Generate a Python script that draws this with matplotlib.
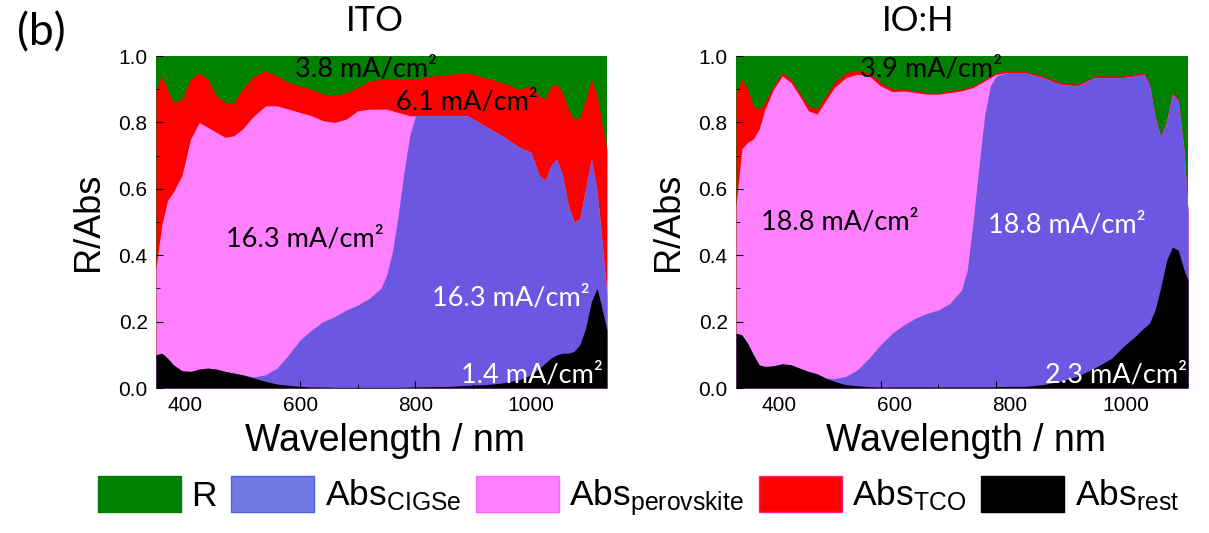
import numpy as np
import matplotlib
matplotlib.use("Agg")
import matplotlib.pyplot as plt
from matplotlib.patches import Patch
from matplotlib.ticker import MultipleLocator
from matplotlib.transforms import ScaledTranslation

plt.rcParams['font.family'] = ['Liberation Sans', 'DejaVu Sans']
plt.rcParams['mathtext.fontset'] = 'custom'
plt.rcParams['mathtext.rm'] = 'Liberation Sans'
plt.rcParams['mathtext.it'] = 'Liberation Sans:italic'

# colours of the stacked layers
c_r = '#008000'
c_cigse = '#6b57e0'
c_pero = '#ff80ff'
c_tco = '#ff0000'
c_rest = '#000000'

# ---- ITO: cumulative tops of the stacked layers (rest < CIGSe < perovskite < TCO, R above)
wl_ito = [350, 360, 370, 380, 395, 410, 425, 440, 455, 470, 485, 500, 520, 540, 560,
          580, 600, 620, 640, 660, 680, 700, 720, 740, 750, 760, 770, 780, 790, 800,
          830, 860, 890, 920, 950, 980, 1000, 1015, 1025, 1035, 1045, 1055, 1065, 1075,
          1085, 1095, 1105, 1115, 1122, 1132]
ito_rest = [0.10, 0.105, 0.09, 0.07, 0.052, 0.05, 0.057, 0.06, 0.057, 0.05, 0.045, 0.04, 0.03, 0.02, 0.012,
            0.008, 0.005, 0.003, 0.003, 0.002, 0.002, 0.002, 0.002, 0.002, 0.002, 0.002, 0.002, 0.002, 0.003, 0.003,
            0.004, 0.005, 0.008, 0.01, 0.015, 0.025, 0.04, 0.06, 0.075, 0.09, 0.10, 0.105, 0.105, 0.11,
            0.13, 0.18, 0.26, 0.30, 0.25, 0.175]
ito_cigse = [0.10, 0.105, 0.09, 0.07, 0.052, 0.05, 0.057, 0.06, 0.057, 0.05, 0.045, 0.04, 0.033, 0.04, 0.06,
             0.10, 0.145, 0.175, 0.20, 0.215, 0.235, 0.25, 0.27, 0.30, 0.34, 0.41, 0.52, 0.65, 0.76, 0.82,
             0.82, 0.82, 0.82, 0.79, 0.76, 0.725, 0.71, 0.64, 0.625, 0.67, 0.69, 0.64, 0.55, 0.50,
             0.51, 0.60, 0.69, 0.59, 0.47, 0.28]
ito_pero = [0.36, 0.49, 0.565, 0.59, 0.64, 0.75, 0.80, 0.785, 0.77, 0.755, 0.76, 0.78, 0.82, 0.85, 0.85,
            0.84, 0.83, 0.82, 0.805, 0.80, 0.81, 0.835, 0.84, 0.84, 0.84, 0.835, 0.83, 0.825, 0.82, 0.82,
            0.82, 0.82, 0.82, 0.79, 0.76, 0.725, 0.71, 0.64, 0.625, 0.67, 0.69, 0.64, 0.55, 0.50,
            0.51, 0.60, 0.69, 0.59, 0.47, 0.28]
ito_tco = [0.90, 0.94, 0.90, 0.86, 0.87, 0.93, 0.95, 0.93, 0.88, 0.86, 0.86, 0.90, 0.94, 0.955, 0.94,
           0.92, 0.91, 0.90, 0.885, 0.88, 0.89, 0.905, 0.925, 0.93, 0.93, 0.93, 0.93, 0.93, 0.93, 0.93,
           0.94, 0.945, 0.95, 0.935, 0.92, 0.90, 0.91, 0.88, 0.87, 0.91, 0.915, 0.89, 0.84, 0.81,
           0.815, 0.87, 0.93, 0.88, 0.81, 0.72]

# ---- IO:H
wl_ioh = [350, 360, 370, 380, 390, 400, 415, 430, 445, 460, 475, 490, 505, 520, 540,
          560, 580, 600, 620, 640, 660, 680, 700, 720, 740, 750, 760, 770, 780, 790,
          800, 820, 850, 880, 910, 940, 970, 1000, 1020, 1040, 1055, 1065, 1075, 1085,
          1095, 1105, 1115, 1125, 1132]
ioh_rest = [0.165, 0.16, 0.135, 0.10, 0.07, 0.065, 0.067, 0.073, 0.07, 0.06, 0.05, 0.043, 0.03, 0.02, 0.01,
            0.007, 0.004, 0.003, 0.003, 0.003, 0.003, 0.003, 0.003, 0.003, 0.003, 0.003, 0.003, 0.003, 0.003, 0.003,
            0.004, 0.005, 0.005, 0.01, 0.02, 0.035, 0.06, 0.09, 0.125, 0.155, 0.18, 0.195, 0.235, 0.305,
            0.385, 0.425, 0.415, 0.355, 0.325]
ioh_cigse = [0.165, 0.16, 0.135, 0.10, 0.07, 0.065, 0.067, 0.073, 0.07, 0.06, 0.05, 0.043, 0.03, 0.028, 0.035,
             0.055, 0.09, 0.13, 0.165, 0.19, 0.21, 0.225, 0.235, 0.255, 0.295, 0.355, 0.50, 0.665, 0.82, 0.91,
             0.94, 0.95, 0.95, 0.935, 0.915, 0.91, 0.935, 0.935, 0.935, 0.94, 0.945, 0.915, 0.815, 0.755,
             0.805, 0.885, 0.865, 0.715, 0.525]
ioh_pero = [0.55, 0.72, 0.74, 0.75, 0.78, 0.84, 0.90, 0.94, 0.92, 0.88, 0.835, 0.825, 0.865, 0.905, 0.935,
            0.945, 0.94, 0.91, 0.893, 0.895, 0.89, 0.885, 0.885, 0.89, 0.895, 0.90, 0.905, 0.915, 0.925, 0.935,
            0.945, 0.95, 0.95, 0.935, 0.915, 0.91, 0.935, 0.935, 0.935, 0.94, 0.945, 0.915, 0.815, 0.755,
            0.805, 0.885, 0.865, 0.715, 0.525]
ioh_tco = [0.89, 0.93, 0.90, 0.85, 0.84, 0.86, 0.91, 0.95, 0.93, 0.89, 0.85, 0.84, 0.88, 0.92, 0.95,
           0.955, 0.95, 0.92, 0.90, 0.90, 0.895, 0.89, 0.89, 0.895, 0.90, 0.905, 0.91, 0.92, 0.93, 0.94,
           0.95, 0.955, 0.955, 0.94, 0.92, 0.915, 0.94, 0.94, 0.94, 0.945, 0.95, 0.92, 0.82, 0.76,
           0.81, 0.89, 0.87, 0.72, 0.53]

# photocurrent labels: (text, x, y, colour)
ito_notes = [("3.8 mA/cm²", 715, 0.96, 'black'),
             ("6.1 mA/cm²", 889, 0.86, 'black'),
             ("16.3 mA/cm²", 608, 0.45, 'black'),
             ("16.3 mA/cm²", 965, 0.27, 'white'),
             ("1.4 mA/cm²", 1002, 0.04, 'white')]
ioh_notes = [("3.9 mA/cm²", 688, 0.96, 'black'),
             ("18.8 mA/cm²", 530, 0.50, 'black'),
             ("18.8 mA/cm²", 922, 0.49, 'white'),
             ("2.3 mA/cm²", 1007, 0.04, 'white')]

fig = plt.figure(figsize=(12.09, 5.33), dpi=100)
ax1 = fig.add_axes([0.1290, 0.2720, 0.3730, 0.6229])
ax2 = fig.add_axes([0.6088, 0.2720, 0.3739, 0.6229])


def draw_panel(ax, wl, rest, cigse, pero, tco, notes):
    wl = np.array(wl)
    ax.fill_between(wl, 0, 1, color=c_r, lw=0)
    ax.fill_between(wl, 0, tco, color=c_tco, lw=0)
    ax.fill_between(wl, 0, pero, color=c_pero, lw=0)
    ax.fill_between(wl, 0, cigse, color=c_cigse, lw=0)
    ax.fill_between(wl, 0, rest, color=c_rest, lw=0)
    for txt, x, y, col in notes:
        ax.text(x, y, txt, color=col, fontsize=19.5, family=['Lato', 'DejaVu Sans'],
                ha='center', va='center')
    ax.set_xlim(350, 1132)
    ax.set_ylim(0, 1)
    ax.xaxis.set_major_locator(MultipleLocator(200))
    ax.xaxis.set_minor_locator(MultipleLocator(100))
    ax.yaxis.set_major_locator(MultipleLocator(0.2))
    ax.yaxis.set_minor_locator(MultipleLocator(0.1))
    ax.tick_params(which='both', direction='in', labelsize=15, pad=6)
    ax.tick_params(which='major', length=5)
    ax.tick_params(which='minor', length=3)
    for s in ax.spines.values():
        s.set_visible(False)
    ax.set_xlabel("Wavelength / nm", fontsize=27)
    ax.set_ylabel("R/Abs", fontsize=26)
    ax.xaxis.set_label_coords(0.508, -0.105)
    ax.yaxis.set_label_coords(-0.111, 0.5)


draw_panel(ax1, wl_ito, ito_rest, ito_cigse, ito_pero, ito_tco, ito_notes)
draw_panel(ax2, wl_ioh, ioh_rest, ioh_cigse, ioh_pero, ioh_tco, ioh_notes)

# tick labels of the right panel sit a little to the right of their ticks
shift = ScaledTranslation(14 / 100, 0, fig.dpi_scale_trans)
for lab in ax2.get_xticklabels():
    lab.set_transform(lab.get_transform() + shift)

fig.text(375 / 1209, 1 - 21 / 533, "ITO", fontsize=25, family=['Lato', 'DejaVu Sans'],
         ha='center', va='center')
fig.text(918 / 1209, 1 - 21 / 533, "IO:H", fontsize=25, family=['Lato', 'DejaVu Sans'],
         ha='center', va='center')
fig.text(41 / 1209, 1 - 33 / 533, "(b)", fontsize=32, family=['Lato', 'DejaVu Sans'],
         ha='center', va='center')

handles = [Patch(facecolor=c_r, edgecolor=c_r),
           Patch(facecolor='#6f7be3', edgecolor='#4f5fe0'),
           Patch(facecolor=c_pero, edgecolor='#ff66ff'),
           Patch(facecolor=c_tco, edgecolor='#ff2288'),
           Patch(facecolor=c_rest, edgecolor=c_rest)]
labels = ["R", r"Abs$_{\mathrm{CIGSe}}$", r"Abs$_{\mathrm{perovskite}}$",
          r"Abs$_{\mathrm{TCO}}$", r"Abs$_{\mathrm{rest}}$"]
fig.legend(handles, labels, loc='center', bbox_to_anchor=(0.528, 0.0675), ncol=5,
           frameon=False, fontsize=25.5, handlelength=2.35, handleheight=1.2,
           handletextpad=0.3, columnspacing=0.4, borderaxespad=0, borderpad=0)

fig.savefig("out.png", dpi=100)
